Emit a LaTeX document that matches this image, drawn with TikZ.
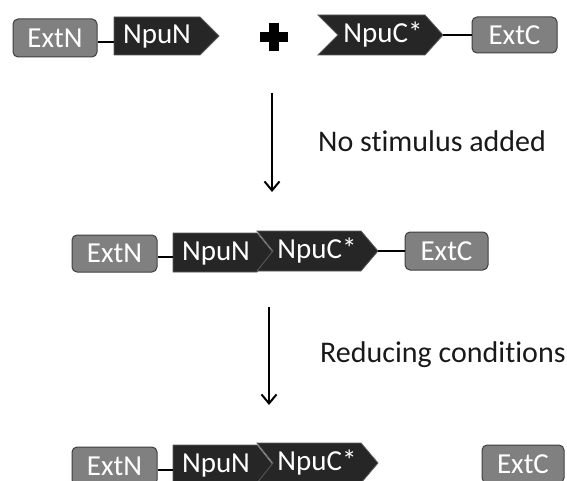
\documentclass[tikz,border=0pt]{standalone}
\usepackage{fontspec}
\setmainfont{Carlito}[Ligatures=NoCommon]
\usetikzlibrary{arrows.meta}
\definecolor{extgray}{HTML}{808080}
\definecolor{extborder}{HTML}{3F3F3F}
\definecolor{npudark}{HTML}{262626}
\definecolor{npuedge}{HTML}{5A5A5A}
\tikzset{
  extbox/.style={draw=extborder, fill=extgray, line width=1pt, rounded corners=5pt,
    text=white, font=\fontsize{29}{33}\selectfont, inner sep=0pt},
  npushape/.style={draw=npuedge, fill=npudark, line width=0.8pt, line join=miter},
  lbl/.style={text=white, font=\fontsize{29}{33}\selectfont, anchor=base, inner sep=0pt},
  steplbl/.style={text=black!90, font=\fontsize{30}{35}\selectfont, anchor=base west, inner sep=0pt},
  link/.style={draw=black, line width=1.2pt},
  steparrow/.style={draw=black, line width=2pt, -{Straight Barb[length=9pt,width=15pt,line width=2pt]}},
}
\begin{document}
\begin{tikzpicture}[x=1pt,y=-1pt]
\useasboundingbox (0,0) rectangle (567,481);
\clip (0,0) rectangle (567,481);

% ---------- top row ----------
\node[extbox, minimum width=84pt, minimum height=38pt] (extN1) at (55,38) {ExtN};
\filldraw[npushape] (114,17) -- (200,17) -- (219,36) -- (200,55) -- (114,55) -- cycle;
\node[lbl] (npuN1) at (157,44) {NpuN};
\coordinate (npuN1w) at (114,42);
\draw[link] (extN1.east |- npuN1w) -- (npuN1w);

\fill (260,32) rectangle (288,42);
\fill (269,23) rectangle (279,51);

\filldraw[npushape] (318,15) -- (425,15) -- (443,35) -- (425,55) -- (318,55) -- (338,35) -- cycle;
\node[lbl] (npuC1) at (383,43) {NpuC*};
\coordinate (npuC1e) at (443,35);
\node[extbox, minimum width=85pt, minimum height=36pt] (extC1) at (514.5,35) {ExtC};
\draw[link] (npuC1e) -- (extC1.west |- npuC1e);

% ---------- arrow 1 ----------
\coordinate (arr1s) at (272,93);
\coordinate (arr1e) at (272,192);
\draw[steparrow] (arr1s) -- (arr1e);
\node[steplbl] (step1) at (318,152) {No stimulus added};

% ---------- middle row ----------
\node[extbox, minimum width=85pt, minimum height=37pt] (extN2) at (114.5,253.5) {ExtN};
\filldraw[npushape] (173,233) -- (257,233) -- (273,252.5) -- (257,272) -- (173,272) -- cycle;
\filldraw[npushape] (257,231) -- (361,231) -- (378,251) -- (361,271) -- (257,271) -- (273,251) -- cycle;
\node[lbl] (npuN2) at (216,260) {NpuN};
\node[lbl] (npuC2) at (317,258) {NpuC*};
\coordinate (npuN2w) at (173,257);
\coordinate (npuC2e) at (378,251);
\draw[link] (extN2.east |- npuN2w) -- (npuN2w);
\node[extbox, minimum width=83pt, minimum height=38pt] (extC2) at (446.5,251) {ExtC};
\draw[link] (npuC2e) -- (extC2.west |- npuC2e);

% ---------- arrow 2 ----------
\coordinate (arr2s) at (269,307);
\coordinate (arr2e) at (269,405);
\draw[steparrow] (arr2s) -- (arr2e);
\node[steplbl] (step2) at (320,362) {Reducing conditions};

% ---------- bottom row ----------
\node[extbox, minimum width=85pt, minimum height=38pt] (extN3) at (114.5,466) {ExtN};
\filldraw[npushape] (173,445) -- (257,445) -- (273,465) -- (257,485) -- (173,485) -- cycle;
\filldraw[npushape] (257,443) -- (361,443) -- (378,463) -- (361,483) -- (257,483) -- (273,463) -- cycle;
\node[lbl] (npuN3) at (216,472) {NpuN};
\node[lbl] (npuC3) at (317,470) {NpuC*};
\coordinate (npuN3w) at (173,470);
\draw[link] (extN3.east |- npuN3w) -- (npuN3w);
\node[extbox, minimum width=82pt, minimum height=38pt] (extC3) at (523,464) {ExtC};
\end{tikzpicture}
\end{document}
